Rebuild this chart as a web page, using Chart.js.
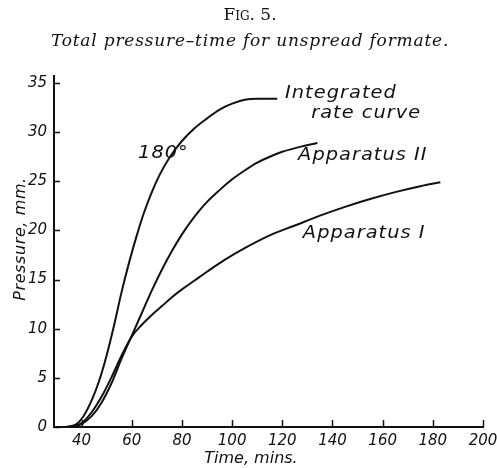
<!DOCTYPE html>
<html>
<head>
<meta charset="utf-8">
<title>Total pressure–time for unspread formate</title>
<script src="https://cdn.jsdelivr.net/npm/chart.js@4.4.1/dist/chart.umd.min.js"></script>
<style>
  html, body { margin: 0; padding: 0; background: #fff; }
  #wrap { width: 497px; height: 468px; position: relative; }
</style>
</head>
<body>
<div id="wrap"><canvas id="chart"></canvas></div>
<script>
// Time (mins) and total pressure (mm.) for each curve
const integratedTime     = [34, 38, 41, 44, 47, 50, 53, 56, 59, 62, 65, 68, 71, 75, 80, 85, 90, 95, 100, 105, 110, 118];
const integratedPressure = [0, 0.3, 1.2, 2.7, 4.7, 7.3, 10.4, 13.8, 16.8, 19.5, 21.9, 23.9, 25.6, 27.4, 29.1, 30.4, 31.4, 32.3, 32.9, 33.3, 33.4, 33.4];

const apparatus2Time     = [36, 40, 44, 48, 52, 56, 60, 64, 68, 72, 76, 80, 85, 90, 95, 100, 105, 110, 115, 120, 127, 134];
const apparatus2Pressure = [0, 0.3, 1.1, 2.5, 4.5, 7.0, 9.3, 11.6, 13.9, 16.0, 17.9, 19.6, 21.4, 22.9, 24.1, 25.2, 26.1, 26.9, 27.5, 28.0, 28.5, 28.9];

const apparatus1Time     = [36, 40, 44, 48, 52, 56, 60, 64, 68, 72, 76, 80, 85, 90, 97, 105, 115, 125, 135, 145, 155, 165, 175, 183];
const apparatus1Pressure = [0, 0.4, 1.5, 3.1, 5.1, 7.3, 9.2, 10.4, 11.4, 12.3, 13.2, 14.0, 14.9, 15.8, 17.0, 18.2, 19.5, 20.5, 21.5, 22.4, 23.2, 23.9, 24.5, 24.9];

const xTickValues = [40, 60, 80, 100, 120, 140, 160, 180, 200];
const yTickValues = [0, 5, 10, 15, 20, 25, 30, 35];

// Curve labels, anchored in data units (time, pressure) at the left end of the baseline
const curveLabels = [
  { text: 'Integrated', t: 121.1, p: 33.5 },
  { text: 'rate curve', t: 131.5, p: 31.4 },
  { text: 'Apparatus II', t: 126.3, p: 27.2 },
  { text: 'Apparatus I', t: 128.2, p: 19.2 },
  { text: '180°', t: 62.5, p: 27.4 }
];

const toPoints = (xs, ys) => xs.map((x, i) => ({ x: x, y: ys[i] }));

const INK = '#111';
const SANS = "'DejaVu Sans', sans-serif";
const SERIF = "'DejaVu Serif', serif";

const lineStyle = {
  borderColor: INK,
  borderWidth: 2,
  pointRadius: 0,
  fill: false,
  cubicInterpolationMode: 'monotone'
};

// Short tick marks pointing into the plot, plus the small overhang of the pressure axis
const innerTicks = {
  id: 'innerTicks',
  afterDatasetsDraw(chart) {
    const ctx = chart.ctx;
    const xs = chart.scales.x, ys = chart.scales.y;
    const area = chart.chartArea;
    ctx.save();
    ctx.strokeStyle = INK;
    ctx.lineWidth = 1.5;
    ctx.beginPath();
    xTickValues.forEach(v => {
      const px = Math.round(xs.getPixelForValue(v)) + 0.5;
      ctx.moveTo(px, area.bottom);
      ctx.lineTo(px, area.bottom - 7);
    });
    yTickValues.forEach(v => {
      const py = Math.round(ys.getPixelForValue(v)) + 0.5;
      ctx.moveTo(area.left, py);
      ctx.lineTo(area.left + 6, py);
    });
    ctx.stroke();
    ctx.lineWidth = 2;
    ctx.beginPath();
    ctx.moveTo(area.left, area.top);
    ctx.lineTo(area.left, area.top - 8);
    ctx.stroke();
    ctx.restore();
  }
};

// Draws the figure heading, the axis titles and the curve labels
const textLayer = {
  id: 'textLayer',
  afterDraw(chart) {
    const ctx = chart.ctx;
    const xs = chart.scales.x, ys = chart.scales.y;
    ctx.save();
    ctx.fillStyle = INK;
    ctx.textBaseline = 'alphabetic';

    // heading
    ctx.textAlign = 'center';
    ctx.font = "small-caps 17px " + SERIF;
    ctx.fillText('Fig. 5.', 250, 20);
    ctx.font = "italic 17px " + SERIF;
    ctx.letterSpacing = '0.8px';
    ctx.fillText('Total pressure–time for unspread formate.', 250, 46);

    // axis titles
    ctx.font = "oblique 16px " + SANS;
    ctx.letterSpacing = '0px';
    ctx.fillText('Time, mins.', 251, 463);
    ctx.save();
    ctx.translate(25, 239);
    ctx.rotate(-Math.PI / 2);
    ctx.letterSpacing = '0.6px';
    ctx.fillText('Pressure, mm.', 0, 0);
    ctx.restore();

    // curve labels, in a slightly widened oblique face
    ctx.textAlign = 'left';
    ctx.font = "oblique 17px " + SANS;
    ctx.letterSpacing = '0.9px';
    curveLabels.forEach(l => {
      ctx.save();
      ctx.translate(xs.getPixelForValue(l.t), ys.getPixelForValue(l.p));
      ctx.scale(1.14, 1);
      ctx.fillText(l.text, 0, 0);
      ctx.restore();
    });
    ctx.restore();
  }
};

const tickFont = { family: SANS, size: 15, style: 'italic' };

new Chart(document.getElementById('chart'), {
  type: 'line',
  data: {
    datasets: [
      Object.assign({ label: 'Integrated rate curve', data: toPoints(integratedTime, integratedPressure) }, lineStyle),
      Object.assign({ label: 'Apparatus II', data: toPoints(apparatus2Time, apparatus2Pressure) }, lineStyle),
      Object.assign({ label: 'Apparatus I', data: toPoints(apparatus1Time, apparatus1Pressure) }, lineStyle)
    ]
  },
  options: {
    responsive: true,
    maintainAspectRatio: false,
    animation: false,
    events: [],
    layout: { padding: { top: 83, right: 0, bottom: 0, left: 0 } },
    plugins: { legend: { display: false }, tooltip: { enabled: false }, title: { display: false } },
    scales: {
      x: {
        type: 'linear',
        min: 29,
        max: 200,
        afterBuildTicks(scale) { scale.ticks = xTickValues.map(v => ({ value: v })); },
        afterFit(scale) { scale.height = 41; scale.paddingRight = 14; scale.paddingLeft = 0; },
        border: { display: true, color: INK, width: 2 },
        grid: { display: false, drawTicks: false },
        ticks: { color: INK, font: tickFont, padding: 5, maxRotation: 0, autoSkip: false }
      },
      y: {
        type: 'linear',
        min: 0,
        max: 35,
        afterBuildTicks(scale) { scale.ticks = yTickValues.map(v => ({ value: v })); },
        afterFit(scale) { scale.width = 54; scale.paddingTop = 0; scale.paddingBottom = 0; },
        border: { display: true, color: INK, width: 2 },
        grid: { display: false, drawTicks: false },
        ticks: { color: INK, font: tickFont, padding: 7, autoSkip: false }
      }
    }
  },
  plugins: [innerTicks, textLayer]
});
</script>
</body>
</html>
